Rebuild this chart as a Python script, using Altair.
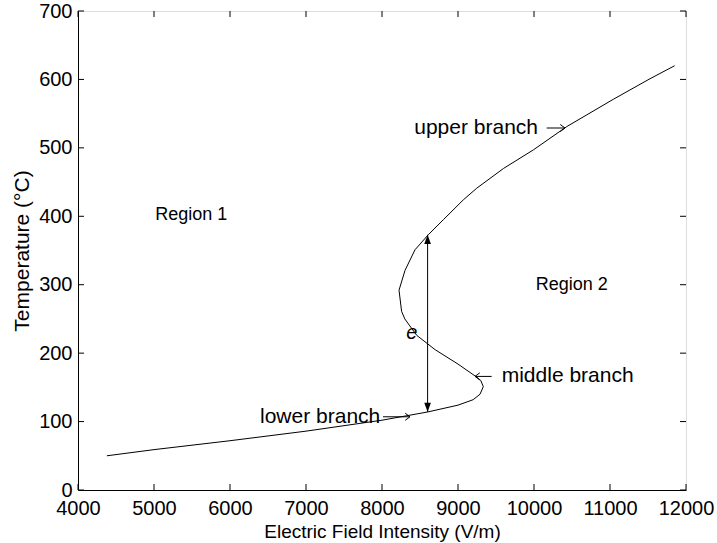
import altair as alt
import pandas as pd

# S-shaped steady-state curve: temperature vs. applied field strength
field = [4380, 5000, 6000, 7000, 7500, 8000, 8600, 9000, 9200, 9290, 9333,
         9300, 9246, 9000, 8700, 8457, 8300, 8258, 8224, 8303, 8434, 8609,
         8807, 9070, 9246, 9600, 9991, 10430, 11044, 11526, 11850]
temp = [50, 59, 72, 86, 94, 102, 114, 124, 132, 140, 151,
        160, 165, 184, 205, 226, 250, 261, 292, 321, 351, 373,
        395, 424, 441, 470, 497, 531, 571, 601, 620]

x_ticks = [4000, 5000, 6000, 7000, 8000, 9000, 10000, 11000, 12000]
y_ticks = [0, 100, 200, 300, 400, 500, 600, 700]

# jump from lower to upper branch at constant field
jump_field = 8600
jump_low, jump_high = 114, 373

# annotation text (data coordinates)
region_text = ["Region 1", "Region 2"]
region_x = [5490, 10496]
region_y = [402, 300]

branch_text = ["upper branch", "middle branch", "lower branch"]
branch_x = [10053, 9575, 6395]
branch_y = [529, 166, 107]
branch_align = ["right", "left", "left"]

# pointer arrows from each label to its branch: tail x, head x, level
pointer_tail = [10167, 9443, 8013]
pointer_head = [10408, 9224, 8368]
pointer_y = [529, 166, 107]

W, H = 608, 479
FONT = "Liberation Sans"

xs = alt.Scale(domain=[4000, 12000], nice=False, zero=False)
ys = alt.Scale(domain=[0, 700], nice=False, zero=False)

curve_df = pd.DataFrame({"E": field, "T": temp, "i": range(len(field))})

curve = alt.Chart(curve_df).mark_line(color="black", strokeWidth=1).encode(
    x=alt.X("E:Q", scale=xs,
            axis=alt.Axis(values=x_ticks, format="d",
                          title="Electric Field Intensity (V/m)",
                          ticks=False, grid=False, domainColor="black",
                          labelFontSize=20, labelFont=FONT, labelColor="black",
                          labelPadding=8, titleFont=FONT, titleFontSize=19,
                          titleFontWeight="normal", titleColor="black",
                          titlePadding=4, labelFlush=False, labelOverlap=False)),
    y=alt.Y("T:Q", scale=ys,
            axis=alt.Axis(values=y_ticks, format="d", title="Temperature (°C)",
                          ticks=False, grid=False, domainColor="black",
                          labelFontSize=20, labelFont=FONT, labelColor="black",
                          labelPadding=6, titleFont=FONT, titleFontSize=21,
                          titleFontWeight="normal", titleColor="black",
                          titlePadding=6, labelFlush=False, labelOverlap=False)),
    order="i:Q",
)

jump_df = pd.DataFrame({"E": [jump_field], "lo": [jump_low], "hi": [jump_high]})
jump = alt.Chart(jump_df).mark_rule(color="black", strokeWidth=1).encode(
    x=alt.X("E:Q", scale=xs), y=alt.Y("lo:Q", scale=ys), y2="hi:Q")

head_up = alt.Chart(pd.DataFrame({"E": [jump_field], "T": [jump_high]})).mark_point(
    shape="M0,0L-0.36,1L0.36,1Z", size=340, filled=True, color="black", opacity=1
).encode(x=alt.X("E:Q", scale=xs), y=alt.Y("T:Q", scale=ys))
head_down = alt.Chart(pd.DataFrame({"E": [jump_field], "T": [jump_low]})).mark_point(
    shape="M0,0L-0.36,-1L0.36,-1Z", size=340, filled=True, color="black", opacity=1
).encode(x=alt.X("E:Q", scale=xs), y=alt.Y("T:Q", scale=ys))

regions = alt.Chart(pd.DataFrame({"t": region_text, "E": region_x, "T": region_y})
                    ).mark_text(font=FONT, fontSize=18, color="black").encode(
    x=alt.X("E:Q", scale=xs), y=alt.Y("T:Q", scale=ys), text="t:N")

bdf = pd.DataFrame({"t": branch_text, "E": branch_x, "T": branch_y, "a": branch_align})
branch_r = alt.Chart(bdf[bdf.a == "right"]).mark_text(
    font=FONT, fontSize=21, color="black", align="right").encode(
    x=alt.X("E:Q", scale=xs), y=alt.Y("T:Q", scale=ys), text="t:N")
branch_l = alt.Chart(bdf[bdf.a == "left"]).mark_text(
    font=FONT, fontSize=21, color="black", align="left").encode(
    x=alt.X("E:Q", scale=xs), y=alt.Y("T:Q", scale=ys), text="t:N")

pdf = pd.DataFrame({"x0": pointer_tail, "x1": pointer_head, "T": pointer_y})
pdf["right"] = pdf.x1 > pdf.x0
shafts = alt.Chart(pdf).mark_rule(color="black", strokeWidth=1).encode(
    x=alt.X("x0:Q", scale=xs), x2="x1:Q", y=alt.Y("T:Q", scale=ys))
chev_r = alt.Chart(pdf[pdf.right]).mark_point(
    shape="M-1,-0.75L0,0L-1,0.75", size=90, filled=False, color="black",
    strokeWidth=1, opacity=1
).encode(x=alt.X("x1:Q", scale=xs), y=alt.Y("T:Q", scale=ys))
chev_l = alt.Chart(pdf[~pdf.right]).mark_point(
    shape="M1,-0.75L0,0L1,0.75", size=90, filled=False, color="black",
    strokeWidth=1, opacity=1
).encode(x=alt.X("x1:Q", scale=xs), y=alt.Y("T:Q", scale=ys))

e_label = alt.Chart(pd.DataFrame({"t": ["e"], "E": [8391], "T": [229]})).mark_text(
    font=FONT, fontSize=20, fontStyle="italic", color="black").encode(
    x=alt.X("E:Q", scale=xs), y=alt.Y("T:Q", scale=ys), text="t:N")

# inward tick marks on all four sides of the box
xt = pd.DataFrame({"v": x_ticks})
yt = pd.DataFrame({"v": y_ticks})
tick_len = 6
ticks = [
    alt.Chart(xt).mark_rule(color="black").encode(
        x=alt.X("v:Q", scale=xs), y=alt.value(H), y2=alt.value(H - tick_len)),
    alt.Chart(xt).mark_rule(color="black").encode(
        x=alt.X("v:Q", scale=xs), y=alt.value(0), y2=alt.value(tick_len)),
    alt.Chart(yt).mark_rule(color="black").encode(
        y=alt.Y("v:Q", scale=ys), x=alt.value(0), x2=alt.value(tick_len)),
    alt.Chart(yt).mark_rule(color="black").encode(
        y=alt.Y("v:Q", scale=ys), x=alt.value(W), x2=alt.value(W - tick_len)),
]

chart = alt.layer(
    curve, jump, head_up, head_down, regions, branch_r, branch_l,
    shafts, chev_r, chev_l, e_label, *ticks
).properties(
    width=W, height=H,
    autosize="none",
    padding={"left": 78, "top": 11, "right": 31, "bottom": 53},
).configure_view(stroke="black", strokeWidth=1).configure(background="white")

chart.save("out.html", embed_options={"renderer": "svg", "actions": False})
